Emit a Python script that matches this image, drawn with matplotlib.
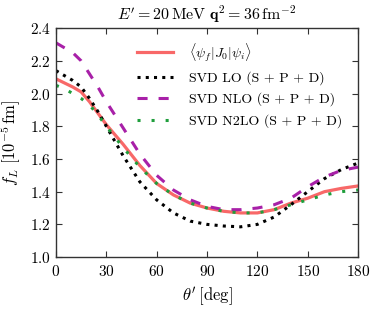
import matplotlib
matplotlib.use("Agg")
import matplotlib.pyplot as plt

plt.rcParams['font.family'] = 'serif'
plt.rcParams['font.serif'] = ['cmr10']
plt.rcParams['mathtext.fontset'] = 'cm'
plt.rcParams['axes.formatter.use_mathtext'] = True

# angles in degrees
theta = [0, 5, 10, 15, 20, 25, 30, 40, 50, 60, 70, 80, 90, 100, 110, 120,
         130, 140, 150, 160, 170, 180]

# f_L values [10^-5 fm]
exact = [2.09, 2.065, 2.04, 2.01, 1.95, 1.88, 1.81, 1.69, 1.56, 1.45, 1.38,
         1.33, 1.30, 1.28, 1.27, 1.27, 1.29, 1.33, 1.36, 1.40, 1.42, 1.435]
svd_lo = [2.14, 2.11, 2.08, 2.04, 1.97, 1.89, 1.80, 1.62, 1.46, 1.35, 1.27,
          1.22, 1.20, 1.19, 1.185, 1.20, 1.245, 1.32, 1.40, 1.48, 1.535, 1.575]
svd_nlo = [2.31, 2.28, 2.25, 2.20, 2.12, 2.04, 1.95, 1.79, 1.63, 1.50, 1.41,
           1.35, 1.31, 1.29, 1.29, 1.30, 1.32, 1.36, 1.43, 1.49, 1.53, 1.55]
svd_n2lo = [2.05, 2.03, 2.00, 1.97, 1.93, 1.87, 1.80, 1.67, 1.55, 1.45, 1.38,
            1.33, 1.30, 1.28, 1.27, 1.27, 1.29, 1.32, 1.35, 1.38, 1.40, 1.41]

labels = [r'$\langle\psi_f|J_0|\psi_i\rangle$',
          'SVD LO (S + P + D)',
          'SVD NLO (S + P + D)',
          'SVD N2LO (S + P + D)']

fig = plt.figure(figsize=(3.73, 3.09), dpi=100)
ax = fig.add_axes([0.150, 0.168, 0.810, 0.741])

ax.plot(theta, exact, color='#f86868', lw=2.3, label=labels[0])
ax.plot(theta, svd_lo, color='black', lw=2.2, linestyle=(0, (1, 1.7)), label=labels[1])
ax.plot(theta, svd_nlo, color='#a820a8', lw=2.2, linestyle=(0, (3.3, 3.6)), label=labels[2])
ax.plot(theta, svd_n2lo, color='#1f9e3c', lw=2.2, linestyle=(0, (1, 3.6)), label=labels[3])

ax.set_xlim(0, 180)
ax.set_ylim(1.0, 2.4)
ax.set_xticks([0, 30, 60, 90, 120, 150, 180])
ax.set_yticks([1.0, 1.2, 1.4, 1.6, 1.8, 2.0, 2.2, 2.4])
ax.tick_params(direction='in', top=True, right=True, length=4, width=0.8,
               labelsize=11, color='#333333')
ax.tick_params(axis='x', pad=5)
for s in ax.spines.values():
    s.set_color('#333333')
    s.set_linewidth(1.0)

ax.set_title(r"$E' = 20\,\mathrm{MeV}\ \mathbf{q}^2 = 36\,\mathrm{fm}^{-2}$", fontsize=11.5, pad=6)
ax.set_xlabel(r"$\theta'\,[\mathrm{deg}]$", fontsize=12, labelpad=5)
ax.set_ylabel(r'$f_L\ [10^{-5}\,\mathrm{fm}]$', fontsize=12)
ax.yaxis.set_label_coords(-0.108, 0.5)

ax.legend(loc='upper right', bbox_to_anchor=(0.99, 1.0), frameon=False, fontsize=10,
          handlelength=2.6, handletextpad=1.15, labelspacing=0.55)

fig.savefig('out.png', dpi=100)
